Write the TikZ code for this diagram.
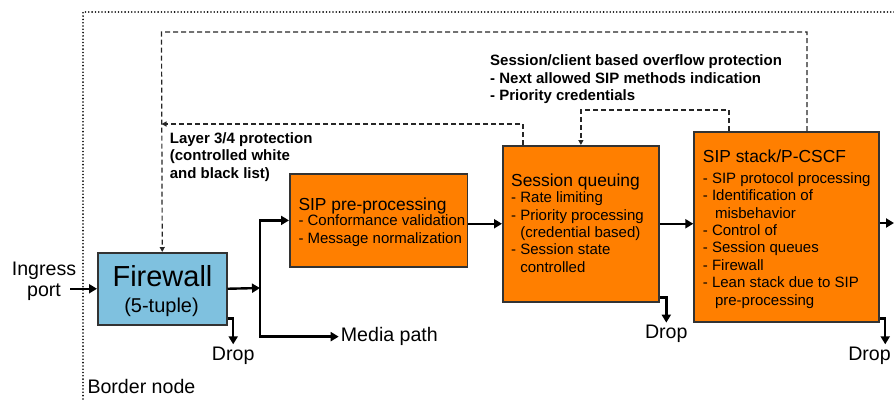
\documentclass[tikz,border=0pt]{standalone}
\usepackage{fontspec}
\setmainfont{Liberation Sans}
\usetikzlibrary{arrows.meta,calc}
\newcommand\fsz[2]{\fontsize{#1}{#2}\selectfont}
\definecolor{boxorange}{HTML}{FF7F00}
\definecolor{fwblue}{HTML}{7FC1DF}
\definecolor{edgegray}{HTML}{333333}
\begin{document}
\begin{tikzpicture}[x=1pt,y=-1pt,
  obox/.style={draw=edgegray,line width=1.5pt,fill=boxorange,inner sep=0pt,anchor=north west},
  bbox/.style={draw=edgegray,line width=1.5pt,fill=fwblue,inner sep=0pt,anchor=north west},
  ttl/.style={inner sep=0pt,anchor=base west,font=\fsz{17.4}{20}},
  itm/.style={inner sep=0pt,anchor=base west,align=left,font=\fsz{15}{17.4}},
  blbl/.style={inner sep=0pt,anchor=base west,align=left,font=\bfseries\fsz{15}{17.6}},
  lbl/.style={inner sep=2pt,font=\fsz{19.6}{21}},
  arr/.style={line width=2.4pt,-{Triangle[length=8pt,width=9pt]}},
  dsh/.style={line width=1.2pt,draw=black!85,dash pattern=on 5pt off 3pt},
  dsharr/.style={dsh,-{Triangle[length=5pt,width=5pt]}},
  border/.style={line width=1.8pt,dash pattern=on 0pt off 3.3pt,line cap=round}]
\useasboundingbox (0,0) rectangle (894,400);
% border node area
\draw[border] (894,12) -| (83,400);
\node[inner sep=0pt,anchor=base west,font=\fsz{19.6}{21}] (bn) at (87.3,393.3) {Border node};
% boxes
\node[bbox,minimum width=129pt,minimum height=72pt] (fw) at (97,252) {};
\node[obox,minimum width=177.7pt,minimum height=92.7pt] (pre) at (289,173.3) {};
\node[obox,minimum width=156.3pt,minimum height=156pt] (sq) at (502,145) {};
\node[obox,minimum width=185pt,minimum height=190pt] (st) at (693.3,131) {};
% firewall texts
\node[inner sep=0pt,anchor=base,font=\fsz{29}{32}] (fwt) at (162.5,286.7) {Firewall};
\node[inner sep=0pt,anchor=base,font=\fsz{20}{22}] (fws) at (161.5,312) {(5-tuple)};
% box texts (multi-line nodes: base = last line baseline)
\node[ttl] (pret) at (298.3,210) {SIP pre-processing};
\node[itm] (prei) at (298.3,243.3) {- Conformance validation\\- Message normalization};
\node[ttl] (sqt) at (511,186) {Session queuing};
\node[itm] (sqi) at (511,272.3) {- Rate limiting\\- Priority processing\\\hphantom{- }(credential based)\\- Session state\\\hphantom{- }controlled};
\node[ttl] (stt) at (702.7,162.7) {SIP stack/P-CSCF};
\node[itm] (sti) at (702.7,305) {- SIP protocol processing\\- Identification of\\\hphantom{- }\hspace{3pt}misbehavior\\- Control of\\- Session queues\\- Firewall\\- Lean stack due to SIP\\\hphantom{- }\hspace{3pt}pre-processing};
% bold labels
\node[blbl] (ovl) at (490,100.6) {Session/client based overflow protection\\- Next allowed SIP methods indication\\- Priority credentials};
\node[blbl] (l34) at (169.7,178.4) {Layer 3/4 protection\\(controlled white\\and black list)};
% outside labels
\node[lbl,align=center,anchor=base] (ing) at (44,296.7) {Ingress\\port};
\node[lbl,anchor=base west] (mp) at (338.7,341.7) {Media path};
\node[lbl,anchor=base] (d1) at (233.2,360) {Drop};
\node[lbl,anchor=base] (d2) at (666.3,338.3) {Drop};
\node[lbl,anchor=base] (d3) at (869.5,360) {Drop};
% main flow
\coordinate (j) at (260,288);
\coordinate (out) at (894,223);
\draw[arr] ($(fw.west)+(-27,0)$) -- (fw.west);
\draw[arr] (fw.east) -- (j);
\draw[arr] (j) |- (pre.west);
\draw[arr] (j) |- (mp.west);
\draw[arr] (pre.east |- sq.west) -- (sq.west);
\draw[arr] (sq.east) -- (sq.east -| st.west);
\draw[arr] (st.east |- out) -- (out);
% drops
\draw[arr] ($(fw.south east)+(0,-7)$) -| (d1.north);
\draw[arr] ($(sq.south east)+(0,-5)$) -| (d2.north);
\draw[arr] ($(st.south east)+(0,-4)$) -| ($(d3.north east)+(-7.7,0)$);
% dashed feedback
\coordinate (o2) at (161.5,32);
\coordinate (i2) at (161.5,124);
\draw[dsharr] ($(st.north west)+(113.7,0)$) |- (o2) -- (fw.north);
\draw[dsharr] ($(sq.north west)+(21,0)$) |- (i2);
\draw[dsharr] ($(st.north west)+(35.7,0)$) |- ($(sq.north)+(0,-35)$) -- (sq.north);
\end{tikzpicture}
\end{document}
